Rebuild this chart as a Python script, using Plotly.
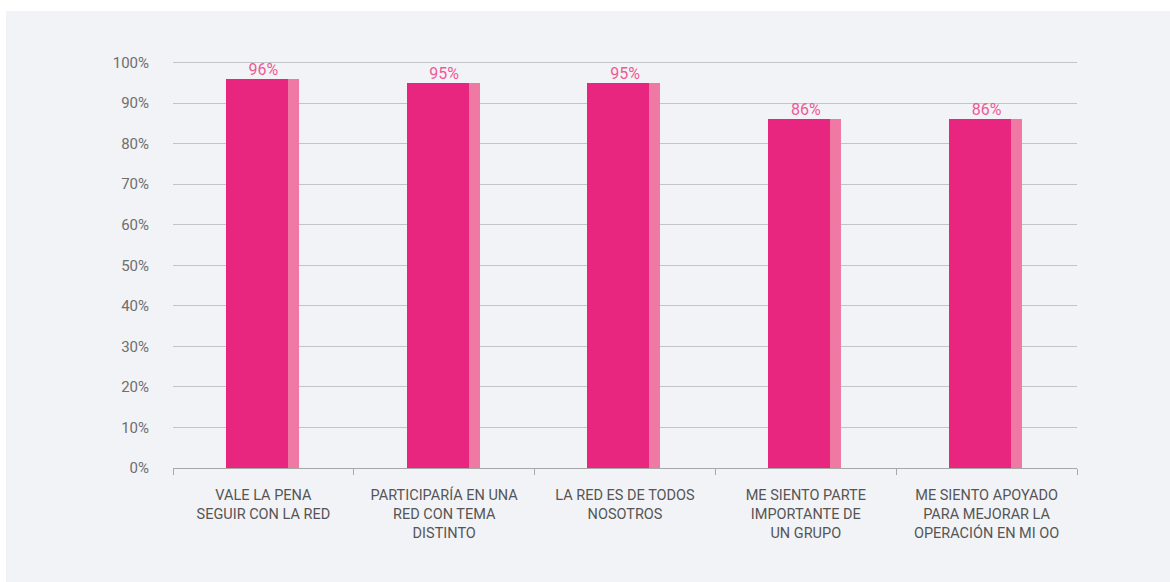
import plotly.graph_objects as go

categories = [
    "VALE LA PENA<br>SEGUIR CON LA RED",
    "PARTICIPARÍA EN UNA<br>RED CON TEMA<br>DISTINTO",
    "LA RED ES DE TODOS<br>NOSOTROS",
    "ME SIENTO PARTE<br>IMPORTANTE DE<br>UN GRUPO",
    "ME SIENTO APOYADO<br>PARA MEJORAR LA<br>OPERACIÓN EN MI OO",
]
values = [96, 95, 95, 86, 86]
value_labels = ["96%", "95%", "95%", "86%", "86%"]
y_ticks = [0, 10, 20, 30, 40, 50, 60, 70, 80, 90, 100]
y_tick_labels = [f"{v}%" for v in y_ticks]

FONT = "Liberation Sans Narrow, Roboto, Arial Narrow, sans-serif"
MAIN = "#E8267F"
SIDE = "#EF79A2"

fig = go.Figure()
fig.add_trace(go.Bar(
    x=categories, y=values, marker=dict(color=MAIN, line=dict(width=0)),
    width=0.343, offset=-0.208, hoverinfo="skip", showlegend=False,
))
fig.add_trace(go.Bar(
    x=categories, y=values, marker=dict(color=SIDE, line=dict(width=0)),
    width=0.061, offset=0.135, hoverinfo="skip", showlegend=False,
))
fig.add_trace(go.Scatter(
    x=categories, y=values, mode="text", text=value_labels,
    textposition="top center",
    textfont=dict(family=FONT, size=16, color="#EE5A95"),
    hoverinfo="skip", showlegend=False, cliponaxis=False,
))

W, H = 1170, 582
L, R, T, B = 173, 93, 61, 114
pw, ph = W - L - R, H - T - B
fig.add_shape(
    type="rect", xref="paper", yref="paper", layer="below",
    x0=(6 - L) / pw, x1=(W - L) / pw,
    y0=(H - B - H) / ph, y1=(H - B - 11) / ph,
    fillcolor="#F2F3F7", line=dict(width=0),
)

fig.update_layout(
    width=W, height=H,
    margin=dict(l=L, r=R, t=T, b=B, pad=0),
    paper_bgcolor="white", plot_bgcolor="rgba(0,0,0,0)",
    barmode="overlay", bargap=0,
    font=dict(family=FONT),
)
fig.update_xaxes(
    range=[-0.5, 4.5], showgrid=False, showline=True, linecolor="#A8A8A8", linewidth=1,
    ticks="outside", tickson="boundaries", ticklen=6, tickcolor="#A8A8A8",
    tickfont=dict(family=FONT, size=14.5, color="#555555"), tickangle=0,
    ticklabelstandoff=14,
)
fig.update_yaxes(
    range=[0, 100.4], tickvals=y_ticks, ticktext=y_tick_labels,
    showgrid=True, gridcolor="#C4C4C4", gridwidth=1, zeroline=False, showline=False,
    tickfont=dict(family=FONT, size=15, color="#6E6E6E"), ticklabelstandoff=23,
)

fig.write_html("out.html")
